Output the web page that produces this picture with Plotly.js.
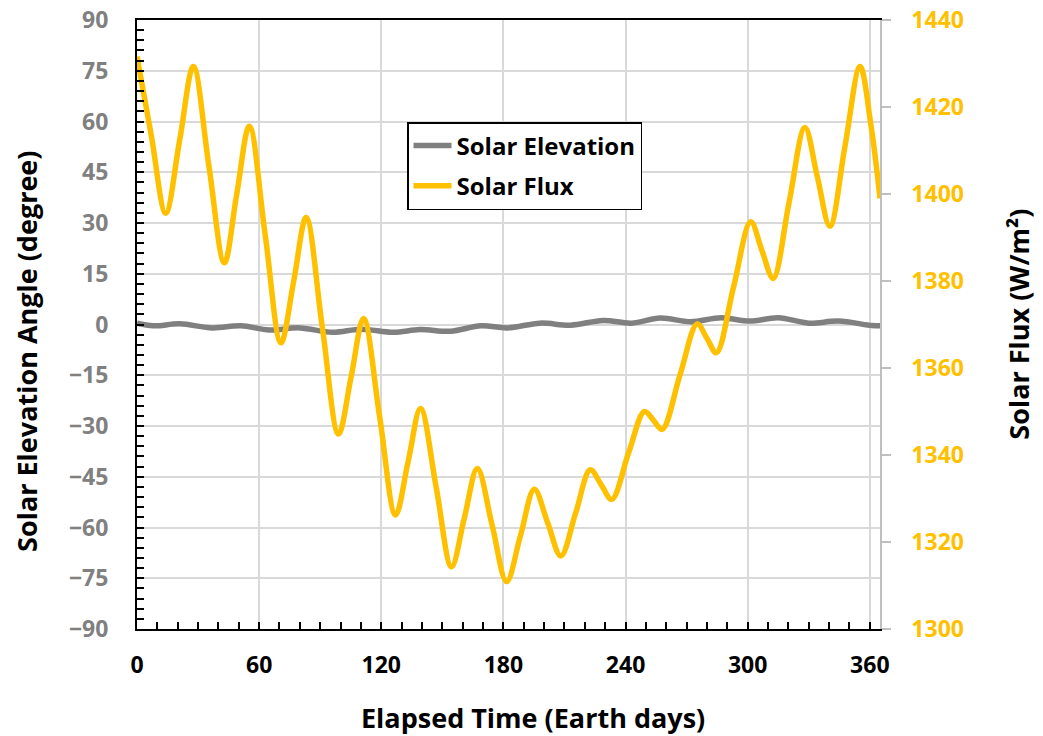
<!DOCTYPE html>
<html>
<head>
<meta charset="utf-8">
<script src="https://cdn.plot.ly/plotly-3.0.1.min.js"></script>
<style>html,body{margin:0;padding:0;background:#fff;}#chart{width:1043px;height:736px;}</style>
</head>
<body>
<div id="chart"></div>
<script>
// Solar Flux (W/m2): extrema and mid-slope points
var fluxDays = [0, 7.0, 14.1, 21.0, 27.7, 35.3, 42.9, 49.0, 55.2, 63.0, 70.7, 77.0, 83.1, 91.0, 99.0, 105.2, 111.3, 119.2, 127.0, 133.2, 139.3, 147.0, 154.5, 160.8, 167.2, 174.4, 181.6, 188.4, 195.2, 201.7, 208.2, 215.5, 222.7, 228.0, 233.2, 241.5, 249.3, 253.7, 258.0, 266.8, 275.2, 280.0, 284.6, 293.0, 301.5, 307.0, 312.5, 320.3, 328.1, 334.2, 340.4, 347.8, 355.2, 360.5, 365];
var fluxValues = [1431.6, 1413.5, 1395.6, 1412.5, 1429.3, 1406.5, 1384.2, 1400.0, 1415.6, 1390.5, 1365.8, 1380.0, 1394.6, 1369.5, 1344.8, 1358.0, 1371.4, 1348.8, 1326.2, 1338.5, 1350.7, 1332.5, 1314.3, 1325.5, 1336.9, 1324.0, 1310.9, 1321.5, 1332.1, 1324.5, 1316.8, 1326.7, 1336.6, 1333.2, 1329.8, 1340.5, 1350.0, 1348.0, 1345.9, 1358.5, 1370.1, 1366.8, 1363.5, 1378.5, 1393.6, 1387.0, 1380.6, 1398.0, 1415.3, 1404.0, 1392.6, 1411.0, 1429.3, 1416.0, 1399.0];

// Solar Elevation angle (degree)
var elevDays = [0, 8, 21, 37, 51, 65, 80, 96, 110, 126, 139, 154, 169, 182, 198, 213, 229, 243, 257, 272, 287, 301, 315, 330, 344.5, 361, 365];
var elevValues = [0.4, -0.4, 0.2, -1.0, -0.4, -1.6, -1.0, -2.3, -1.4, -2.3, -1.5, -2.0, -0.4, -1.0, 0.4, -0.2, 1.2, 0.4, 1.9, 0.8, 2.0, 1.0, 2.0, 0.4, 1.0, -0.3, -0.4];

var seriesNames = ['Solar Elevation', 'Solar Flux'];
var xTitle = 'Elapsed Time (Earth days)';
var yTitle = 'Solar Elevation Angle (degree)';
var y2Title = 'Solar Flux (W/m²)';

var FONT = '"Open Sans", sans-serif';
var TITLEFONT = {family: FONT, size: 27, weight: 'bold', color: '#000'};

var traces = [
  {x: elevDays, y: elevValues, name: seriesNames[0], type: 'scatter', mode: 'lines',
   line: {color: '#808080', width: 5.5, shape: 'spline', smoothing: 1}, yaxis: 'y', legendgroup: 'a'},
  {x: fluxDays, y: fluxValues, name: seriesNames[1], type: 'scatter', mode: 'lines',
   line: {color: '#FFC000', width: 5.5, shape: 'spline', smoothing: 1}, yaxis: 'y2', legendgroup: 'b'}
];

var layout = {
  width: 1043, height: 736,
  margin: {l: 137, r: 163, t: 20, b: 107},
  paper_bgcolor: '#fff', plot_bgcolor: '#fff',
  font: {family: FONT, color: '#000'},
  showlegend: true,
  legend: {x: 0.3634, y: 0.8325, xanchor: 'left', yanchor: 'top',
    bordercolor: '#000', borderwidth: 1.5, bgcolor: '#fff',
    font: {family: FONT, size: 24, weight: 'bold', color: '#000'},
    itemwidth: 38,
    traceorder: 'grouped', tracegroupgap: 6},
  xaxis: {range: [0, 365], tick0: 0, dtick: 60, showgrid: true, gridcolor: '#D9D9D9', gridwidth: 1.5,
    zeroline: false, showline: true, linecolor: '#000', linewidth: 2, mirror: true,
    ticks: 'inside', ticklen: 7, tickwidth: 1.5, tickcolor: '#000',
    minor: {dtick: 10, tick0: 0, ticks: 'inside', ticklen: 7, tickwidth: 1.5, tickcolor: '#000', showgrid: false},
    tickfont: {family: FONT, size: 23, weight: 'bold', color: '#000'}, ticklabelstandoff: 14},
  yaxis: {range: [-90, 90], tick0: -90, dtick: 15, showgrid: true, gridcolor: '#D9D9D9', gridwidth: 1.5,
    zeroline: false, showline: true, linecolor: '#000', linewidth: 2, mirror: false,
    ticks: 'inside', ticklen: 7, tickwidth: 1.5, tickcolor: '#000',
    minor: {dtick: 3, tick0: -90, ticks: 'inside', ticklen: 7, tickwidth: 1.5, tickcolor: '#000', showgrid: false},
    tickfont: {family: FONT, size: 23, weight: 'bold', color: '#808080'}, ticklabelstandoff: 22},
  yaxis2: {overlaying: 'y', side: 'right', range: [1300, 1440], tick0: 1300, dtick: 20,
    showgrid: false, zeroline: false, showline: true, linecolor: '#BFBFBF', linewidth: 1.5,
    ticks: 'outside', ticklen: 9, tickwidth: 1.5, tickcolor: '#BFBFBF',
    tickfont: {family: FONT, size: 23, weight: 'bold', color: '#FFC000'}, ticklabelstandoff: 16},
  annotations: [
    {text: xTitle, xref: 'paper', yref: 'paper', x: 0.533, y: -0.146, xanchor: 'center', yanchor: 'middle',
     showarrow: false, font: TITLEFONT},
    {text: yTitle, xref: 'paper', yref: 'paper', x: -0.148, y: 0.455, xanchor: 'center', yanchor: 'middle',
     textangle: -90, showarrow: false, font: TITLEFONT},
    {text: y2Title, xref: 'paper', yref: 'paper', x: 1.186, y: 0.5, xanchor: 'center', yanchor: 'middle',
     textangle: -90, showarrow: false, font: TITLEFONT}
  ]
};

Plotly.newPlot('chart', traces, layout, {displayModeBar: false, responsive: false});
</script>
</body>
</html>
